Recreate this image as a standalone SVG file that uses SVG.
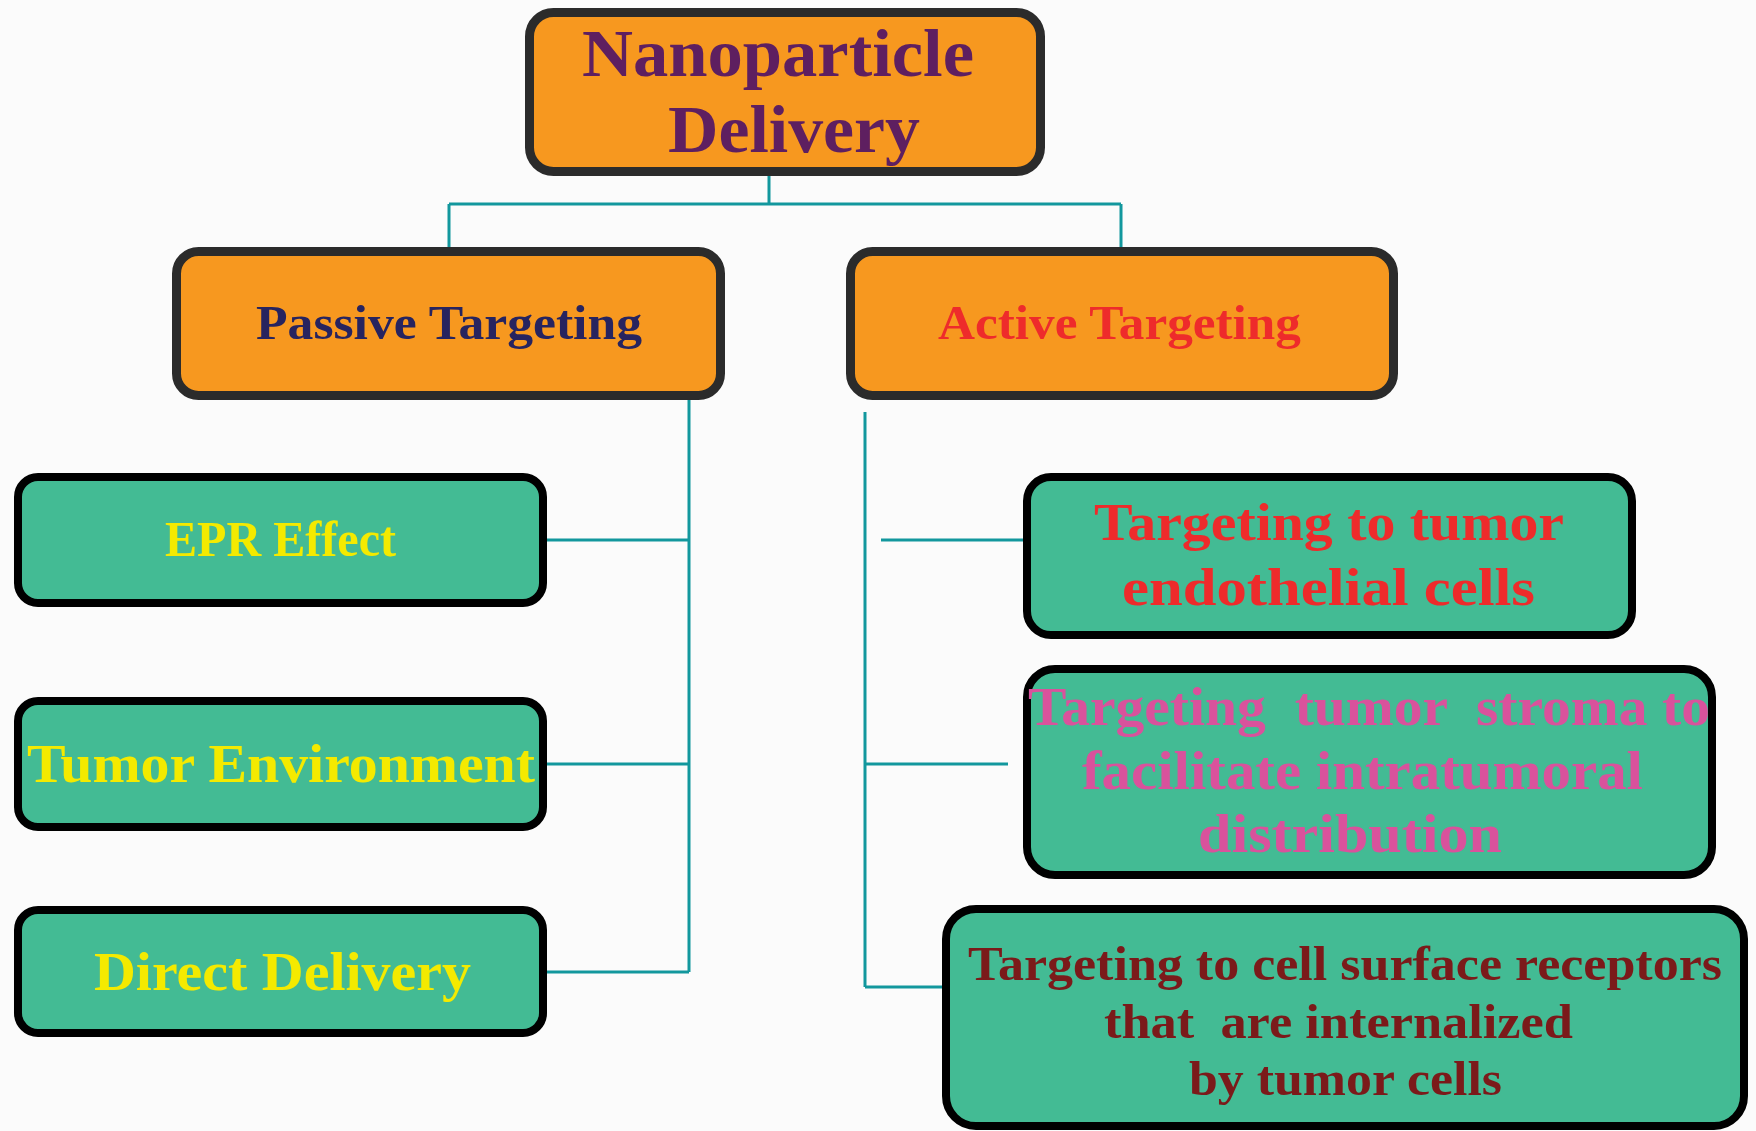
<svg xmlns="http://www.w3.org/2000/svg" width="1756" height="1131" viewBox="0 0 1756 1131">
<style>
.orange{fill:#f7981f;stroke:#2b2b2b;stroke-width:9}
.green{fill:#43bb94;stroke:#000;stroke-width:8}
.t{font-family:"Liberation Serif","Times New Roman",serif;font-weight:bold}
.conn{fill:none;stroke:#12979d;stroke-width:3}
</style>
<rect x="0" y="0" width="1756" height="1131" fill="#fbfbfb"/>
<g id="connectors">
<path class="conn" d="M769 174V204M449 204H1121M449 204V249M1121 204V249"/>
<path class="conn" d="M689 398V972M546 540H689M546 764H689M546 972H689"/>
<path class="conn" d="M865 412V987M881 540H1024M865 764H1008M865 987H945"/>
</g>
<g id="nanoparticle-delivery">
<rect class="orange" x="529.5" y="12.5" width="511" height="159" rx="24"/>
<text class="t" x="582" y="76" font-size="68" fill="#5e1f60" textLength="392" lengthAdjust="spacingAndGlyphs">Nanoparticle</text>
<text class="t" x="668" y="152" font-size="68" fill="#5e1f60" textLength="252" lengthAdjust="spacingAndGlyphs">Delivery</text>
</g>
<g id="passive-targeting">
<rect class="orange" x="176.5" y="251.5" width="544" height="144" rx="22"/>
<text class="t" x="256" y="339" font-size="48" fill="#27245f" textLength="386" lengthAdjust="spacingAndGlyphs">Passive Targeting</text>
</g>
<g id="active-targeting">
<rect class="orange" x="850.5" y="251.5" width="543" height="144" rx="22"/>
<text class="t" x="938" y="339" font-size="48" fill="#ee2b2b" textLength="363" lengthAdjust="spacingAndGlyphs">Active Targeting</text>
</g>
<g id="epr-effect">
<rect class="green" x="18" y="477" width="525" height="126" rx="20"/>
<text class="t" x="165" y="556" font-size="50" fill="#f4ea00" textLength="231" lengthAdjust="spacingAndGlyphs">EPR Effect</text>
</g>
<g id="tumor-environment">
<rect class="green" x="18" y="701" width="525" height="126" rx="20"/>
<text class="t" x="27" y="782" font-size="54" fill="#f4ea00" textLength="508" lengthAdjust="spacingAndGlyphs">Tumor Environment</text>
</g>
<g id="direct-delivery">
<rect class="green" x="18" y="910" width="525" height="123" rx="20"/>
<text class="t" x="94" y="990" font-size="55" fill="#f4ea00" textLength="377" lengthAdjust="spacingAndGlyphs">Direct Delivery</text>
</g>
<g id="endothelial">
<rect class="green" x="1027" y="477" width="605" height="158" rx="24"/>
<text class="t" x="1094" y="540" font-size="53" fill="#ee2b2b" textLength="470" lengthAdjust="spacingAndGlyphs">Targeting to tumor</text>
<text class="t" x="1122" y="605" font-size="53" fill="#ee2b2b" textLength="413" lengthAdjust="spacingAndGlyphs">endothelial cells</text>
</g>
<g id="stroma">
<rect class="green" x="1027" y="669" width="685" height="206" rx="28"/>
<text class="t" xml:space="preserve" x="1028" y="725" font-size="54" fill="#d9529c" textLength="682" lengthAdjust="spacingAndGlyphs">Targeting  tumor  stroma to</text>
<text class="t" x="1082" y="789" font-size="54" fill="#d9529c" textLength="561" lengthAdjust="spacingAndGlyphs">facilitate intratumoral</text>
<text class="t" x="1198" y="852" font-size="54" fill="#d9529c" textLength="304" lengthAdjust="spacingAndGlyphs">distribution</text>
</g>
<g id="receptors">
<rect class="green" x="946" y="909" width="798" height="217" rx="30"/>
<text class="t" x="968" y="980" font-size="48" fill="#7b1a1a" textLength="754" lengthAdjust="spacingAndGlyphs">Targeting to cell surface receptors</text>
<text class="t" xml:space="preserve" x="1104" y="1038" font-size="48" fill="#7b1a1a" textLength="469" lengthAdjust="spacingAndGlyphs">that  are internalized</text>
<text class="t" x="1189" y="1095" font-size="48" fill="#7b1a1a" textLength="313" lengthAdjust="spacingAndGlyphs">by tumor cells</text>
</g>
</svg>
